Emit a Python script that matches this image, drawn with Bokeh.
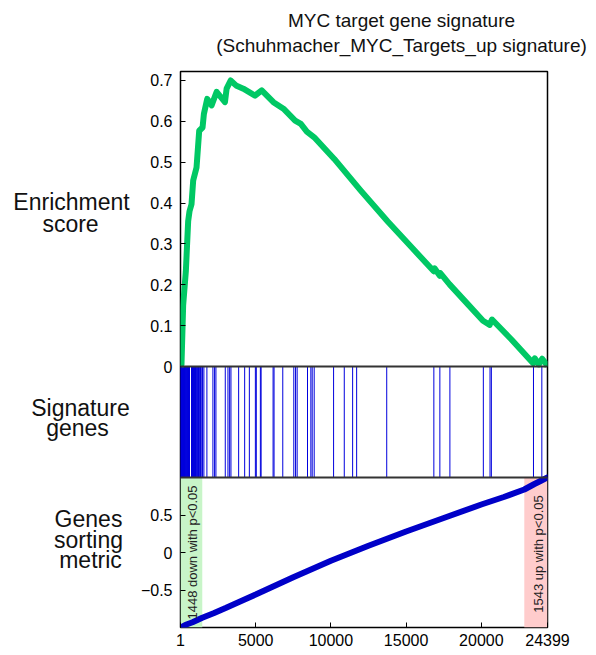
import math
from bokeh.plotting import figure
from bokeh.layouts import column, row
from bokeh.models import Range1d, FixedTicker, Span
from bokeh.core.properties import value
from bokeh.embed import file_html
from bokeh.resources import INLINE

FONT = "Liberation Sans"

# ---------------- data ----------------
n_genes = 24399
n_down = 1448
n_up = 1543

es_x = [1, 67, 178, 356, 511, 600, 733, 844, 1067, 1244, 1467, 1556, 1778, 2067,
        2400, 2956, 3067, 3333, 3689, 4178, 4956, 5400, 6178, 6844, 7622, 8000,
        8400, 8889, 10222, 12000, 13778, 15333, 16840, 16900, 17240, 17260, 17889,
        19111, 20111, 20556, 20711, 22000, 23444, 23556, 23822, 24044, 24333, 24399]
es_y = [0.0, 0.005, 0.15, 0.233, 0.356, 0.38, 0.397, 0.455, 0.487, 0.577, 0.585,
        0.618, 0.655, 0.639, 0.672, 0.647, 0.680, 0.700, 0.688, 0.680, 0.663, 0.676,
        0.647, 0.631, 0.602, 0.594, 0.575, 0.561, 0.508, 0.430, 0.355, 0.293, 0.233,
        0.240, 0.222, 0.229, 0.201, 0.152, 0.112, 0.102, 0.115, 0.066, 0.008, 0.020,
        0.005, 0.019, 0.005, 0.0]

gene_pos = [12, 35, 58, 80, 105, 128, 150, 172, 196, 221, 245, 270, 296, 322, 350,
            380, 410, 440, 470, 500, 533, 600, 733, 800, 830, 862, 895, 930, 965,
            1000, 1040, 1080, 1120, 1160, 1200, 1245, 1290, 1335, 1378, 1467, 1556,
            1756, 2156, 2267, 2356, 2978, 3156, 3267, 3356, 3867, 4267, 4578, 4978,
            5040, 5311, 5360, 6156, 6220, 6800, 7533, 7650, 7756, 8444, 8667, 8756,
            8889, 10178, 10889, 11444, 11711, 13711, 16844, 17244, 17911, 20133,
            20578, 20667, 23467, 24022]

metric_x = [1, 150, 400, 800, 1448, 2200, 3000, 4000, 5000, 7500, 10000, 12500,
            15000, 17500, 20000, 21500, 22856, 23500, 24000, 24399]
metric_y = [-1.0, -0.985, -0.96, -0.93, -0.87, -0.81, -0.74, -0.65, -0.56, -0.33,
            -0.11, 0.09, 0.28, 0.46, 0.64, 0.74, 0.84, 0.91, 0.96, 1.0]

x_ticks = [1, 5000, 10000, 15000, 20000, 24399]
es_ticks = [0, 0.1, 0.2, 0.3, 0.4, 0.5, 0.6, 0.7]
es_tick_labels = ["0", "0.1", "0.2", "0.3", "0.4", "0.5", "0.6", "0.7"]
metric_ticks = [-0.5, 0, 0.5]
metric_tick_labels = ["\u22120.5", "0", "0.5"]

title_lines = ["MYC target gene signature", "(Schuhmacher_MYC_Targets_up signature)"]
panel_labels = [["Enrichment", "score"], ["Signature", "genes"], ["Genes", "sorting", "metric"]]

# ---------------- layout constants (pixels) ----------------
PAGE_W = 596
TITLE_H = 60
LABEL_W = 135
MAIN_W = PAGE_W - LABEL_W
MAIN_H = 595
B_LEFT, B_RIGHT, B_TOP, B_BOTTOM = 45, 49, 11, 28
es_h, gene_h, metric_h = 295, 111, 150
total_h = es_h + gene_h + metric_h
es_top = 0.722


def bare(width, height, xr, yr):
    p = figure(width=width, height=height, x_range=xr, y_range=yr,
               output_backend="svg", toolbar_location=None,
               x_axis_location=None, y_axis_location=None,
               min_border_left=0, min_border_right=0, min_border_top=0, min_border_bottom=0)
    p.grid.visible = False
    p.outline_line_color = None
    p.background_fill_color = "white"
    p.border_fill_color = "white"
    return p


# ---- title (coordinates = page pixels) ----
pt = bare(PAGE_W, TITLE_H, Range1d(0, PAGE_W), Range1d(TITLE_H, 0))
pt.text(x=[401, 401], y=[20, 45], text=title_lines, text_font=value(FONT),
        text_font_size="19px", text_color="#111111",
        text_align="center", text_baseline="middle")

# ---- left labels (coordinates = page pixels) ----
pl = bare(LABEL_W, MAIN_H, Range1d(0, LABEL_W), Range1d(TITLE_H + MAIN_H, TITLE_H))
lab_x = [71, 70, 80, 77, 88, 88, 90]
lab_y = [200, 223, 420, 442, 539, 561, 583]
lab_t = [t for grp in panel_labels for t in grp]
pl.text(x=lab_x, y=lab_y, text=lab_t, text_font=value(FONT), text_font_size="23px",
        text_color="#111111", text_align="center", text_baseline="middle")

# ---- main stacked panels ----
es_range = Range1d(es_top - total_h * es_top / es_h, es_top)
gene_range = Range1d(-metric_h / gene_h, 1 + es_h / gene_h)
metric_range = Range1d(-1, 1 + (es_h + gene_h) * 2 / metric_h)

p = figure(width=MAIN_W, height=MAIN_H, x_range=Range1d(1, n_genes), y_range=es_range,
           output_backend="svg", toolbar_location=None,
           min_border_left=B_LEFT, min_border_right=B_RIGHT,
           min_border_top=B_TOP, min_border_bottom=B_BOTTOM)
p.extra_y_ranges = {"genes": gene_range, "metric": metric_range}
p.grid.visible = False
p.outline_line_color = "black"
p.outline_line_width = 1.5
p.background_fill_color = "white"
p.border_fill_color = "white"


def style_axis(ax, ticks, labels=None, standoff=8):
    ax.ticker = FixedTicker(ticks=ticks)
    if labels is not None:
        ax.major_label_overrides = {t: l for t, l in zip(ticks, labels)}
    ax.axis_line_color = None
    ax.major_tick_in = 5
    ax.major_tick_out = 0
    ax.major_tick_line_color = "black"
    ax.minor_tick_line_color = None
    ax.major_label_text_font = FONT
    ax.major_label_text_font_size = "16px"
    ax.major_label_text_color = "black"
    ax.major_label_standoff = standoff


# the left axis carries both panels' ticks: metric values mapped into the
# enrichment-score scale of the shared frame
def metric_to_es(m):
    return -(gene_h + (1 - m) * metric_h / 2) * es_top / es_h


left_ticks = es_ticks + [metric_to_es(m) for m in metric_ticks]
left_labels = es_tick_labels + metric_tick_labels
style_axis(p.yaxis[0], left_ticks, left_labels)
style_axis(p.xaxis[0], x_ticks, standoff=6)

# significance bands
p.quad(left=[1], right=[n_down], bottom=[-1], top=[1], y_range_name="metric",
       fill_color="#c8f5c8", line_color=None)
p.quad(left=[n_genes - n_up], right=[n_genes], bottom=[-1], top=[1], y_range_name="metric",
       fill_color="#ffcccc", line_color=None)

# signature genes
p.segment(x0=gene_pos, y0=0, x1=gene_pos, y1=1, y_range_name="genes",
          line_color="#0000dd", line_width=1)

# sorting metric
p.line(metric_x, metric_y, y_range_name="metric", line_color="#0000c8",
       line_width=6, line_cap="round")
p.text(x=[(1 + n_down) / 2 + 60, n_genes - n_up / 2 + 150], y=[0.0, -0.02],
       text=[f"{n_down} down with p<0.05", f"{n_up} up with p<0.05"],
       y_range_name="metric", angle=math.pi / 2, text_font=value(FONT),
       text_font_size="13px", text_color="#222222",
       text_align="center", text_baseline="middle")

# enrichment score
p.line(es_x, es_y, line_color="#00c864", line_width=6, line_join="round")

# panel separators
p.add_layout(Span(location=0, dimension="width", line_color="#333333", line_width=2))
p.add_layout(Span(location=-gene_h * es_top / es_h, dimension="width",
                  line_color="#333333", line_width=2))

layout = column(pt, row(pl, p, spacing=0), spacing=0)
open("out.html", "w").write(file_html(layout, INLINE))
